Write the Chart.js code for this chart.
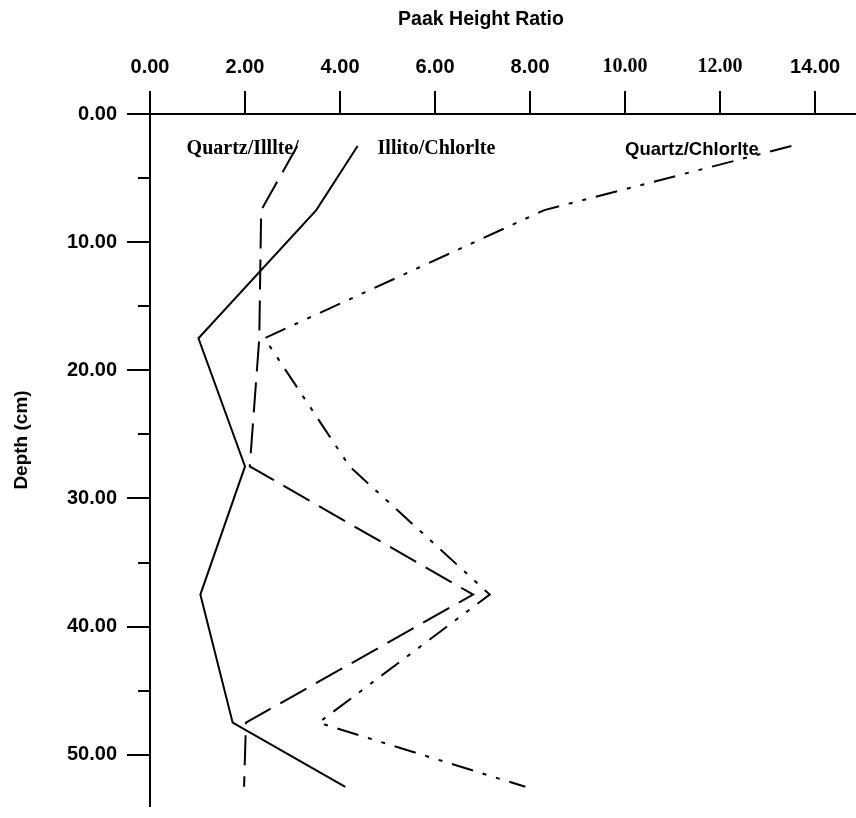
<!DOCTYPE html>
<html>
<head>
<meta charset="utf-8">
<title>Peak Height Ratio vs Depth</title>
<script src="https://cdn.jsdelivr.net/npm/chart.js@4.4.0/dist/chart.umd.min.js"></script>
<style>
  html, body { margin: 0; padding: 0; background: #fff; }
  canvas { display: block; }
</style>
</head>
<body>
<canvas id="chart" width="856" height="818"></canvas>
<script>
// sample depths (cm), one value per series at each depth
const depths = [2.5, 7.5, 17.5, 27.5, 37.5, 47.5, 52.5];
const quartzIllite = [3.10, 2.34, 2.30, 2.10, 6.80, 2.02, 1.98];
const illiteChlorite = [4.37, 3.50, 1.02, 2.00, 1.06, 1.74, 4.11];
const quartzChlorite = [13.50, 8.30, 2.41, 4.20, 7.15, 3.55, 7.90];

const xTicks = [0, 2, 4, 6, 8, 10, 12, 14];
const yTicks = [0, 10, 20, 30, 40, 50];
const yMinorTicks = [5, 15, 25, 35, 45];

const seriesNames = ['Quartz/Illlte/', 'Illito/Chlorlte', 'Quartz/Chlorlte'];
// label anchors in data units (ratio, depth)
const nameAnchors = [[0.77, 2.75], [4.79, 2.7], [10.0, 2.8]];

const SANS = '"Liberation Sans", Arial, sans-serif';
const SERIF = '"Liberation Serif", "Times New Roman", serif';
const nameFonts = ['bold 20px ' + SERIF, 'bold 20px ' + SERIF, 'bold 18.5px ' + SANS];

function points(values) {
  return depths.map((d, i) => ({ x: values[i], y: d }));
}

const extras = {
  id: 'extras',
  afterDraw(chart) {
    const { ctx, scales: { x, y } } = chart;
    ctx.save();
    ctx.fillStyle = '#000';
    ctx.strokeStyle = '#000';
    ctx.lineWidth = 2;

    // minor depth ticks (shorter)
    yMinorTicks.forEach(v => {
      const py = Math.round(y.getPixelForValue(v));
      ctx.beginPath();
      ctx.moveTo(x.left - 12, py);
      ctx.lineTo(x.left, py);
      ctx.stroke();
    });

    // axis titles
    ctx.textAlign = 'center';
    ctx.textBaseline = 'middle';
    ctx.font = 'bold 19.5px ' + SANS;
    ctx.fillText('Paak Height Ratio', 481, 20);
    ctx.save();
    ctx.translate(22, 440);
    ctx.rotate(-Math.PI / 2);
    ctx.font = 'bold 19px ' + SANS;
    ctx.fillText('Depth (cm)', 0, 0);
    ctx.restore();

    // series names
    ctx.textAlign = 'left';
    seriesNames.forEach((name, i) => {
      ctx.font = nameFonts[i];
      ctx.fillText(name, x.getPixelForValue(nameAnchors[i][0]), y.getPixelForValue(nameAnchors[i][1]));
    });
    ctx.restore();
  }
};

const lineBase = { showLine: true, borderColor: '#000', borderWidth: 2, pointRadius: 0, fill: false, tension: 0 };

new Chart(document.getElementById('chart'), {
  type: 'scatter',
  data: {
    datasets: [
      Object.assign({ label: 'Quartz/Illite', data: points(quartzIllite), borderDash: [30, 11] }, lineBase),
      Object.assign({ label: 'Illite/Chlorite', data: points(illiteChlorite) }, lineBase),
      Object.assign({ label: 'Quartz/Chlorite', data: points(quartzChlorite), borderDash: [22, 10, 4, 10, 4, 10] }, lineBase)
    ]
  },
  options: {
    responsive: false,
    animation: false,
    layout: { padding: { left: 0, top: 0, right: 0, bottom: 12 } },
    plugins: { legend: { display: false }, tooltip: { enabled: false } },
    scales: {
      x: {
        type: 'linear',
        position: 'top',
        min: 0,
        max: 14.86,
        afterBuildTicks: s => { s.ticks = xTicks.map(v => ({ value: v })); },
        afterFit: s => { s.height = 114; s.paddingLeft = 0; s.paddingRight = 0; },
        grid: { drawOnChartArea: false, tickLength: 23, color: '#000', lineWidth: 2 },
        border: { color: '#000', width: 2 },
        ticks: {
          padding: 12,
          color: '#000',
          maxRotation: 0,
          autoSkip: false,
          callback: v => v.toFixed(2),
          font: c => ({
            family: (c.tick && c.tick.value >= 10 && c.tick.value <= 12) ? SERIF : SANS,
            size: 20,
            weight: 'bold'
          })
        }
      },
      y: {
        type: 'linear',
        position: 'left',
        reverse: true,
        min: 0,
        max: 54,
        afterBuildTicks: s => { s.ticks = yTicks.map(v => ({ value: v })); },
        afterFit: s => { s.width = 150; s.paddingTop = 0; s.paddingBottom = 0; },
        grid: { drawOnChartArea: false, tickLength: 23, color: '#000', lineWidth: 2 },
        border: { color: '#000', width: 2 },
        ticks: {
          padding: 10,
          color: '#000',
          callback: v => v.toFixed(2),
          font: { family: SANS, size: 20, weight: 'bold' }
        }
      }
    }
  },
  plugins: [extras]
});
</script>
</body>
</html>
